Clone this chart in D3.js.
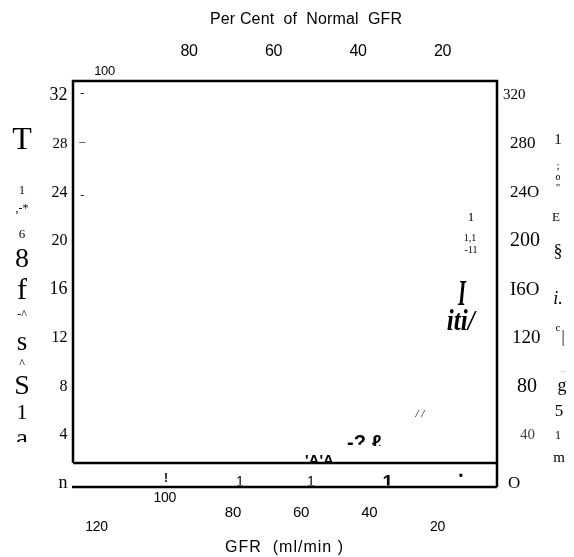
<!DOCTYPE html>
<html><head><meta charset="utf-8">
<script src="https://cdn.jsdelivr.net/npm/d3@7"></script>
<style>body{margin:0;background:#fff}svg{display:block;filter:grayscale(1)}</style>
</head><body><svg id="c" width="574" height="557"></svg>
<script>
// ---------- data ----------
const leftTicks = [32, 28, 24, 20, 16, 12, 8, 4, 0];
const leftTickLabels = ["32", "28", "24", "20", "16", "12", "8", "4", "n"];
const rightTicks = [320, 280, 240, 200, 160, 120, 80, 40, 0];
const rightTickLabels = ["320", "280", "24O", "200", "I6O", "120", "80", "40", "O"];
const gfrTicks = [120, 100, 80, 60, 40, 20];
const pctTicks = [100, 80, 60, 40, 20];
const topTitle = "Per Cent  of  Normal  GFR";
const bottomTitle = "GFR  (ml/min )";

// garbled marks inside the frame: text, GFR (ml/min), value (left scale)
const plotText = ["-", "–", "-", "1", "1,1", "-11", "I", "iti/", "/ /"];
const plotGfr  = [124, 124, 124, 10, 10.3, 10, 12.7, 13, 25];
const plotVal  = [32.1, 28.1, 23.7, 21.9, 20.2, 19.2, 15.6, 13.4, 5.7];
// marks cut by lines (baseline values)
const cutText = ["-? ℓ", "'A'A"];
const cutGfr  = [46.4, 58.7];
const cutVal  = [2.72, 1.44];
// marks in the lower strip
const stripText = ["!", "1", "1", "1", "•"];
const stripGfr  = [99.5, 77.8, 57, 34.4, 13];
const stripVal  = [0, -0.33, -0.33, -0.5, 0.5];
// garbled left axis title characters (value positions)
const leftTitleText = ["T", "1", ",-*", "6", "8", "f", "-^", "s", "^", "S", "1", "a"];
const leftTitleVal  = [28.4, 24.1, 22.6, 20.5, 18.5, 16.0, 13.9, 11.7, 9.8, 8.1, 5.8, 3.7];
// garbled right axis title characters
const rightTitleText = ["1", ";", "o", "\"", "E", "§", "i.", "c", "|", "_", "g", "5", "1", "m"];
const rightTitleVal  = [283, 261, 252, 243, 219, 191, 152, 128, 120, 96, 80, 59, 39, 21];

// ---------- styles / layout ----------
const serif = "'Liberation Serif','Times New Roman',serif";
const sans = "'Liberation Sans',Arial,sans-serif";
const F = {left: 73, right: 497, top: 81, split: 463, bottom: 487};
const leftSizes = [18, 15, 16, 16, 18, 16, 16, 16, 18];
const rightSizes = [15, 17, 17, 20, 19, 19, 20, 15, 17];
const rightDx = [-6, 1, 1, 1, 1, 3, 8, 11, -1];
const topRowY = [70, 50, 50, 50, 50];
const topSizes = [13, 16, 16, 16, 16];
const bottomRowY = [526, 497, 512, 512, 512, 526];
const bottomSizes = [14, 14, 15, 15, 15, 14];
const plotStyle = [
  {s: 12, f: serif}, {s: 12, f: serif}, {s: 12, f: serif},
  {s: 13, f: serif}, {s: 10, f: serif}, {s: 10, f: serif},
  {s: 36, f: serif, it: true, w: "bold", len: 8},
  {s: 30, f: serif, it: true, w: "bold", len: 28},
  {s: 11, f: serif, it: true}
];
const cutStyle = [{s: 20, w: "bold", clip: 446}, {s: 15, w: "bold", clip: 462}];
const stripStyle = [{s: 12, w: "bold"}, {s: 14}, {s: 14}, {s: 19, w: "bold"}, {s: 12}];
const leftTitleSizes = [32, 12, 12, 13, 28, 30, 12, 27, 12, 28, 22, 27];
const rightTitleSizes = [15, 11, 10, 11, 13, 18, 18, 11, 16, 12, 18, 17, 12, 15];
const rightTitleDx = [0, 0, 0, 0, -2, 0, 0, 0, 5, 5, 4, 1, 0, 1];

// ---------- scales ----------
const y = d3.scaleLinear().domain([0, 32]).range([482, 94]);
const yR = d3.scaleLinear().domain([0, 320]).range([482, 94]);
const xG = d3.scaleLinear().domain([120, 20]).range([96, 437]);
const xP = d3.scaleLinear().domain([100, 20]).range([104, 442]);

const svg = d3.select("#c");
const defs = svg.append("defs");
defs.append("clipPath").attr("id", "clipStrip").append("rect")
  .attr("x", F.left).attr("y", F.split + 1.5).attr("width", F.right - F.left).attr("height", F.bottom - F.split - 3);
defs.append("clipPath").attr("id", "clipLeftCol").append("rect")
  .attr("x", 0).attr("y", 0).attr("width", 45).attr("height", 442);
cutStyle.forEach((c, i) => defs.append("clipPath").attr("id", "clipCut" + i).append("rect")
  .attr("x", F.left).attr("y", F.top).attr("width", F.right - F.left).attr("height", c.clip - F.top));

// ---------- frame ----------
svg.append("path")
  .attr("d", `M${F.left},${F.split}V${F.top}H${F.right}V${F.bottom}M${F.left},${F.split}H${F.right}M${F.left - 1},${F.bottom}H${F.right}`)
  .attr("fill", "none").attr("stroke", "#000").attr("stroke-width", 2.5);

// ---------- axes ----------
const gL = svg.append("g").attr("transform", `translate(${F.left},0)`)
  .call(d3.axisLeft(y).tickValues(leftTicks).tickFormat((d, i) => leftTickLabels[i]).tickSize(0).tickPadding(5.5));
gL.select(".domain").remove();
gL.selectAll("text").attr("font-family", serif).attr("font-size", (d, i) => leftSizes[i]).attr("fill", "#000");

const gR = svg.append("g").attr("transform", `translate(${F.right},0)`)
  .call(d3.axisRight(yR).tickValues(rightTicks).tickFormat((d, i) => rightTickLabels[i]).tickSize(0).tickPadding(12));
gR.select(".domain").remove();
gR.selectAll("text").attr("font-family", serif).attr("font-size", (d, i) => rightSizes[i])
  .attr("dx", (d, i) => rightDx[i]).attr("fill", (d, i) => i === 7 ? "#444" : "#000");

const gT = svg.append("g")
  .call(d3.axisTop(xP).tickValues(pctTicks).tickFormat(d => String(d)).tickSize(0));
gT.select(".domain").remove();
gT.selectAll("text").attr("font-family", sans).attr("font-size", (d, i) => topSizes[i])
  .attr("y", (d, i) => topRowY[i]).attr("dy", "0.35em").attr("fill", "#000").attr("letter-spacing", -0.4);

const gB = svg.append("g")
  .call(d3.axisBottom(xG).tickValues(gfrTicks).tickFormat(d => String(d)).tickSize(0));
gB.select(".domain").remove();
gB.selectAll("text").attr("font-family", sans).attr("font-size", (d, i) => bottomSizes[i])
  .attr("y", (d, i) => bottomRowY[i]).attr("dy", "0.35em").attr("fill", "#000").attr("letter-spacing", -0.3);

// titles
svg.append("text").attr("x", 306).attr("y", 18).attr("dy", "0.35em").attr("text-anchor", "middle")
  .attr("font-family", sans).attr("font-size", 16).style("white-space", "pre")
  .attr("textLength", 192).attr("lengthAdjust", "spacing").text(topTitle);
svg.append("text").attr("x", 284).attr("y", 546).attr("dy", "0.35em").attr("text-anchor", "middle")
  .attr("font-family", sans).attr("font-size", 16).style("white-space", "pre")
  .attr("textLength", 118).attr("lengthAdjust", "spacing").text(bottomTitle);

// ---------- garbled side titles ----------
svg.append("g").attr("clip-path", "url(#clipLeftCol)").selectAll("text").data(leftTitleText).join("text")
  .attr("x", 22).attr("y", (d, i) => y(leftTitleVal[i])).attr("dy", "0.35em").attr("text-anchor", "middle")
  .attr("font-family", serif).attr("font-size", (d, i) => leftTitleSizes[i]).text(d => d);

svg.append("g").selectAll("text").data(rightTitleText).join("text")
  .attr("x", (d, i) => 558 + rightTitleDx[i]).attr("y", (d, i) => yR(rightTitleVal[i])).attr("dy", "0.35em")
  .attr("text-anchor", "middle").attr("font-family", serif)
  .attr("font-style", (d, i) => i === 6 ? "italic" : "normal")
  .attr("fill", (d, i) => i === 9 ? "#ccc" : "#000")
  .attr("font-size", (d, i) => rightTitleSizes[i]).text(d => d);

// ---------- garbled marks in plot ----------
svg.append("g").selectAll("text").data(plotText).join("text")
  .attr("x", (d, i) => xG(plotGfr[i])).attr("y", (d, i) => y(plotVal[i])).attr("dy", "0.35em")
  .attr("text-anchor", "middle")
  .attr("font-family", (d, i) => plotStyle[i].f)
  .attr("font-size", (d, i) => plotStyle[i].s)
  .attr("font-style", (d, i) => plotStyle[i].it ? "italic" : "normal")
  .attr("font-weight", (d, i) => plotStyle[i].w || "normal")
  .each(function (d, i) {
    if (plotStyle[i].len) d3.select(this).attr("textLength", plotStyle[i].len).attr("lengthAdjust", "spacingAndGlyphs");
  })
  .text(d => d);

cutText.forEach((t, i) => {
  svg.append("text").attr("clip-path", `url(#clipCut${i})`)
    .attr("x", xG(cutGfr[i])).attr("y", y(cutVal[i]))
    .attr("font-family", sans).attr("font-size", cutStyle[i].s).attr("font-weight", cutStyle[i].w)
    .style("white-space", "pre").text(t);
});

svg.append("g").attr("clip-path", "url(#clipStrip)").selectAll("text").data(stripText).join("text")
  .attr("x", (d, i) => xG(stripGfr[i])).attr("y", (d, i) => y(stripVal[i]))
  .attr("dy", (d, i) => i === 4 ? "0.35em" : null)
  .attr("text-anchor", "middle").attr("font-family", sans)
  .attr("font-size", (d, i) => stripStyle[i].s).attr("font-weight", (d, i) => stripStyle[i].w || "normal")
  .text(d => d);
</script>
</body></html>
